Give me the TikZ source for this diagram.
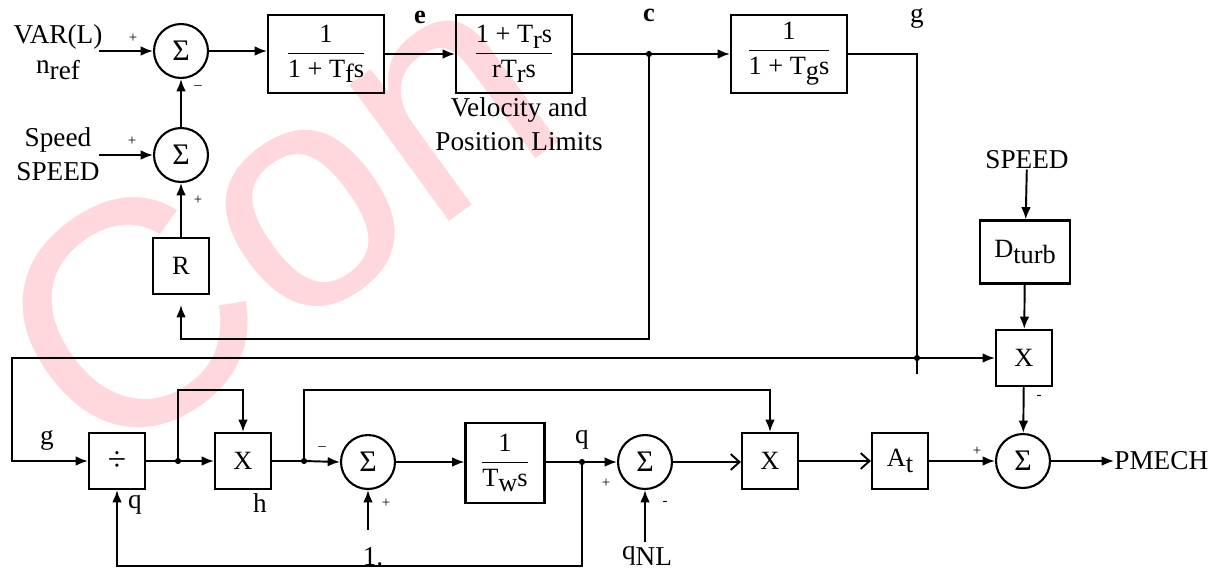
\documentclass[tikz,border=0pt]{standalone}
\usepackage{fontspec}
\setmainfont{Liberation Serif}
\newfontfamily\wmfont{Liberation Sans}
\usetikzlibrary{arrows.meta,positioning,calc}
\definecolor{wmpink}{RGB}{255,216,222}
\newcommand\lowr[1]{\raisebox{-0.45ex}{#1}}
\newcommand\blkfrac[2]{$\displaystyle\frac{\mbox{#1}}{\mbox{#2}}$}

\tikzset{
  blk/.style={draw, line width=1.2pt, minimum width=1.12cm, minimum height=1.12cm, inner sep=1pt, font=\fontsize{15}{17}\selectfont},
  tfblk/.style={blk, minimum width=2.32cm, minimum height=1.56cm, font=\fontsize{15}{17}\selectfont},
  sumnode/.style={draw, circle, line width=1.2pt, minimum size=1.08cm, inner sep=0pt, font=\fontsize{17}{17}\selectfont},
  lbl/.style={font=\fontsize{15.5}{19}\selectfont, inner sep=0pt},
  sgn/.style={font=\fontsize{8.5}{8.5}\selectfont, inner sep=0pt},
  wire/.style={line width=1.1pt, -{Latex[length=7pt,width=5.5pt]}},
  openwire/.style={line width=1.1pt, -{Straight Barb[length=5pt,width=9pt]}},
  line/.style={line width=1.1pt},
  jdot/.style={circle, fill, inner sep=0pt, minimum size=3.5pt}
}

\begin{document}
\begin{tikzpicture}[x=0.02cm,y=-0.02cm]
    \useasboundingbox (0,0) rectangle (1210,569);
    % watermark
    \node[rotate=36, anchor=base west, inner sep=0pt, text=wmpink, font=\wmfont\fontsize{182}{182}\selectfont] (wm) at (101,475) {Con};

    % Speed reference loop
    \node[lbl] (varl) at (58,37) {VAR(L)};
    \node[lbl] (nref) at (58,70) {n\lowr{ref}};
    \node[lbl] (spd) at (58,140) {Speed};
    \node[lbl] (spdu) at (58,172) {SPEED};
    \node[sumnode] (s1) at (181,51) {Σ};
    \node[sumnode] (s2) at (181,155) {Σ};
    \node[blk] (r) at (181,266) {R};
    \coordinate (vin) at (99,51);
    \coordinate (sin) at (99,155);
    \draw[wire] (vin) -- (s1);
    \draw[wire] (sin) -- (s2);
    \draw[wire] (s2) -- (s1);
    \draw[wire] (r) -- (s2);
    \node[sgn] (p1) at (133,38) {+};
    \node[sgn] (m1) at (198,88) {--};
    \node[sgn] (p2) at (132,141) {+};
    \node[sgn] (p3) at (198,200) {+};

    % Governor blocks
    \node[tfblk] (tf) at (326,54) {\blkfrac{1}{1 + T\lowr{f}s}};
    \node[tfblk] (tr) at (514,54) {\blkfrac{1 + T\lowr{r}s}{rT\lowr{r}s}};
    \node[lbl, align=center] (vel) at (519,124) {Velocity and\\Position Limits};
    \node[tfblk] (tg) at (789,54) {\blkfrac{1}{1 + T\lowr{g}s}};
    \node[lbl, font=\fontsize{15}{17}\selectfont\bfseries] (le) at (420,17) {e};
    \node[lbl, font=\fontsize{15}{17}\selectfont\bfseries] (lc) at (649,15) {c};
    \node[lbl] (lg) at (917,18) {g};
    \coordinate (cj) at (649,54);
    \coordinate (cb) at (649,339);
    \coordinate (gc) at (917,54);
    \coordinate (gj) at (917,358);
    \coordinate (gend) at (917,374);
    \coordinate (gl) at (12,358);
    \draw[wire] (s1.east) -- (s1.east -| tf.west);
    \draw[wire] (tf) -- (tr);
    \draw[line] (tr.east) -- (cj);
    \draw[wire] (cj) -- (tg.west);
    \draw[wire, shorten >=0.2cm] (cj) -- (cb) -| (r.south);
    \node[jdot] (cjd) at (cj) {};
    \draw[line] (tg.east) -- (gc) -- (gend);

    % Turbine damping
    \node[lbl] (spd2) at (1027,160) {SPEED};
    \node[blk, minimum width=1.8cm, minimum height=1.26cm] (dt) at (1025,252) {D\lowr{turb}};
    \node[blk] (xt) at (1024,358) {X};
    \draw[wire] (spd2) -- (dt);
    \draw[wire] (dt) -- (xt);
    \draw[wire] (gj) -- (xt.west);
    \node[jdot] (gjd) at (gj) {};

    % Penstock and turbine
    \node[blk, font=\fontsize{19}{19}\selectfont] (dv) at (117,461) {÷};
    \node[blk] (xh) at (243,461) {X};
    \node[sumnode] (s4) at (368,462) {Σ};
    \node[blk, minimum width=1.58cm, minimum height=1.6cm] (tw) at (505,463) {\blkfrac{1}{T\lowr{w}s}};
    \node[sumnode] (s3) at (645,462) {Σ};
    \node[blk] (xq) at (770,461) {X};
    \node[blk] (at) at (900,461) {A\lowr{t}};
    \node[sumnode] (s5) at (1023,461) {Σ};
    \node[lbl, anchor=west] (pm) at (1114,461) {PMECH};
    \coordinate (j1) at (178,461);
    \coordinate (j1t) at (178,390);
    \coordinate (j2) at (304,461);
    \coordinate (j2t) at (304,390);
    \coordinate (j3) at (582,462);
    \coordinate (qb) at (582,566);
    \coordinate (onein) at (368,530);
    \coordinate (qnlin) at (645,542);
    \draw[wire] (gj) -- (gl) |- (dv.west);
    \draw[line] (dv.east) -- (j1);
    \draw[wire] (j1) -- (xh.west);
    \draw[wire] (j1) -- (j1t) -| (xh.north);
    \draw[line] (xh.east) -- (j2);
    \draw[wire] (j2) -- (s4.west);
    \draw[wire] (j2) -- (j2t) -| (xq.north);
    \draw[wire] (onein) -- (s4.south);
    \draw[wire] (s4.east) -- (tw.west |- s4.east);
    \draw[line] (tw.east |- j3) -- (j3);
    \draw[wire] (j3) -- (s3.west);
    \draw[wire] (j3) -- (qb) -| (dv.south);
    \draw[wire] (qnlin) -- (s3.south);
    \draw[openwire] (s3.east) -- (xq.west |- s3.east);
    \draw[openwire] (xq.east) -- (at.west |- xq.east);
    \draw[wire] (at.east) -- (s5.west |- at.east);
    \draw[wire] (xt) -- (s5);
    \draw[wire] (s5) -- (pm);
    \node[jdot] (j1d) at (j1) {};
    \node[jdot] (j2d) at (j2) {};
    \node[jdot] (j3d) at (j3) {};

    % Bottom labels
    \node[lbl] (lg2) at (47,440) {g};
    \node[lbl] (lq) at (135,505) {q};
    \node[lbl] (lh) at (260,503) {h};
    \node[sgn] (m4) at (322,449) {--};
    \node[sgn] (p4) at (386,503) {+};
    \node[lbl] (lone) at (373,557) {1.};
    \node[lbl] (lq2) at (582,440) {q};
    \node[sgn] (p5) at (606,483) {+};
    \node[sgn] (m5) at (665,503) {-};
    \node[lbl] (lqnl) at (647,556) {q\lowr{NL}};
    \node[sgn] (p6) at (977,451) {+};
    \node[sgn] (m6) at (1039,397) {-};
\end{tikzpicture}
\end{document}
